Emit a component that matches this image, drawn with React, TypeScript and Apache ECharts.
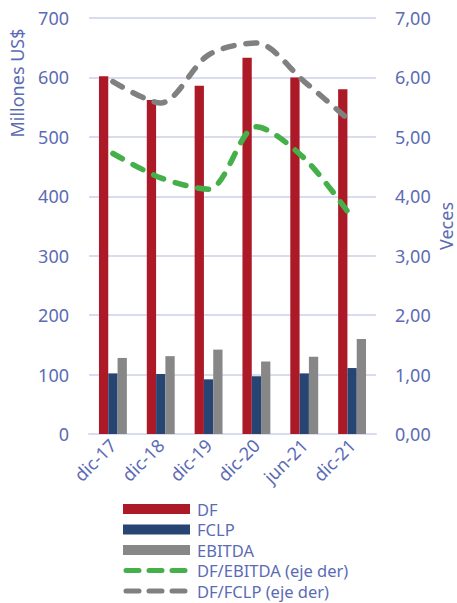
import React, { useEffect, useRef } from "react";
import * as echarts from "echarts";

const categories = ["dic-17", "dic-18", "dic-19", "dic-20", "jun-21", "dic-21"];
const dfValues = [602, 562, 586, 633, 600, 580];
const fclpValues = [102, 101, 92, 97, 102, 111];
const ebitdaValues = [128, 131, 142, 122, 130, 160];
const dfEbitdaValues = [4.72, 4.31, 4.12, 5.17, 4.64, 3.64];
const dfFclpValues = [5.93, 5.57, 6.38, 6.58, 5.93, 5.24];
const leftTicks = { min: 0, max: 700, interval: 100 };
const rightTicks = { min: 0, max: 7, interval: 1 };

const barNames = ["DF", "FCLP", "EBITDA"];
const barColors = ["#ac1a27", "#264573", "#878787"];
const lineNames = ["DF/EBITDA (eje der)", "DF/FCLP (eje der)"];
const lineColors = ["#45b04a", "#808080"];

const TEXT = "#5b6bb4";
const FONT = "Noto Sans";

export default function App() {
  const ref = useRef<HTMLDivElement>(null);
  useEffect(() => {
    if (!ref.current) return;
    const chart = echarts.init(ref.current, null, { renderer: "svg" });
    const dash = { type: [11, 12] as any, cap: "round" as any, width: 5.5 };

    const legendTop = 509;
    const legendStep = 20.5;
    const legendText = (n: string, cy: number) => ({
      type: "text",
      x: 197,
      y: cy,
      style: {
        text: n,
        fontSize: 16.5,
        lineHeight: 18,
        fontFamily: FONT,
        fill: TEXT,
        verticalAlign: "middle",
      },
    });
    const legendGraphics: any[] = [];
    barNames.forEach((n, i) => {
      const cy = legendTop + i * legendStep;
      legendGraphics.push({
        type: "rect",
        shape: { x: 123, y: cy - 5, width: 67, height: 10 },
        style: { fill: barColors[i] },
      });
      legendGraphics.push(legendText(n, cy));
    });
    lineNames.forEach((n, j) => {
      const cy = legendTop + (barNames.length + j) * legendStep;
      legendGraphics.push({
        type: "line",
        shape: { x1: 126, y1: cy, x2: 188, y2: cy },
        style: { stroke: lineColors[j], lineWidth: 5, lineDash: [13, 10], lineCap: "round" },
      });
      legendGraphics.push(legendText(n, cy));
    });

    chart.setOption({
      animation: false,
      textStyle: { fontFamily: FONT, color: TEXT },
      grid: { left: 89, right: 81, top: 18, bottom: 169, containLabel: false },
      xAxis: {
        type: "category",
        data: categories,
        axisLine: { lineStyle: { color: "#d9dcee", width: 2 } },
        axisTick: { show: false },
        axisLabel: {
          rotate: 45,
          margin: 8,
          fontSize: 18,
          fontFamily: FONT,
          color: TEXT,
        },
      },
      yAxis: [
        {
          type: "value",
          ...leftTicks,
          axisLine: { show: false },
          axisTick: { show: false },
          splitLine: { lineStyle: { color: "#d9dcee", width: 2 } },
          axisLabel: { fontSize: 18, margin: 20, color: TEXT, fontFamily: FONT },
        },
        {
          type: "value",
          ...rightTicks,
          position: "right",
          axisLine: { show: false },
          axisTick: { show: false },
          splitLine: { show: false },
          axisLabel: {
            fontSize: 18,
            margin: 19,
            color: TEXT,
            fontFamily: FONT,
            formatter: (v: number) => v.toFixed(2).replace(".", ","),
          },
        },
      ],
      graphic: [
        {
          type: "text",
          x: 17,
          y: 83,
          rotation: Math.PI / 2,
          style: {
            text: "Millones US$",
            fontSize: 18,
            fontFamily: FONT,
            fill: TEXT,
            align: "center",
            verticalAlign: "middle",
          },
        },
        {
          type: "text",
          x: 446,
          y: 226,
          rotation: Math.PI / 2,
          style: {
            text: "Veces",
            fontSize: 18,
            fontFamily: FONT,
            fill: TEXT,
            align: "center",
            verticalAlign: "middle",
          },
        },
        ...legendGraphics,
      ],
      series: [
        ...barNames.map((n, i) => ({
          name: n,
          type: "bar",
          data: [dfValues, fclpValues, ebitdaValues][i],
          barWidth: 9.3,
          barGap: "0%",
          itemStyle: { color: barColors[i] },
        })),
        ...lineNames.map((n, j) => ({
          name: n,
          type: "line",
          yAxisIndex: 1,
          data: [dfEbitdaValues, dfFclpValues][j],
          smooth: 0.3,
          symbol: "none",
          lineStyle: { ...dash, color: lineColors[j] },
          itemStyle: { color: lineColors[j] },
        })),
      ],
    });
    return () => chart.dispose();
  }, []);
  return <div ref={ref} style={{ width: 457, height: 603, position: "absolute", left: 0, top: 0 }} />;
}
